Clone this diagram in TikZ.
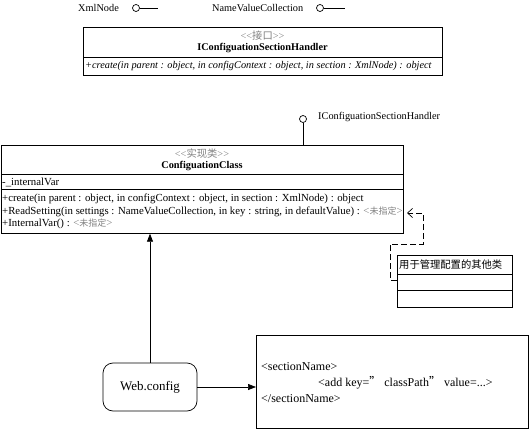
\documentclass[tikz,border=0pt]{standalone}
\usepackage{fontspec}
\setmainfont{Liberation Serif}
\newfontfamily\cjk{Noto Sans CJK SC}
\usetikzlibrary{arrows.meta}
\begin{document}
\begin{tikzpicture}[x=1pt,y=-1pt]
			\tikzstyle{trait}=[line width=0.7pt]
			\tikzstyle{classe}=[draw,line width=0.7pt,anchor=north west,inner sep=0pt]
			\tikzstyle{texte}=[inner sep=0pt,font=\fontsize{10.3}{12}\selectfont]
			\tikzstyle{ligne}=[texte,anchor=west]
			\tikzstyle{membre}=[ligne,font=\fontsize{10.8}{12}\selectfont]
			\tikzstyle{stereo}=[texte,text=gray]
			\tikzstyle{rond}=[draw,circle,minimum size=7pt,inner sep=0pt,line width=0.7pt]
			\tikzstyle{fleche}=[-{Triangle[length=8pt,width=6pt]},line width=0.7pt]
			\tikzstyle{dependance}=[-{Straight Barb[length=5pt,width=9pt]},line width=0.7pt,dash pattern=on 6pt off 3pt]
			
			\def\Stereo#1{<{}<{\cjk #1}>{}>}
			\def\NonSpec{{\color{gray}<{\cjk\fontsize{9}{10}\selectfont 未指定}>}}
			
			\useasboundingbox (0,0) rectangle (529,430);
			
			\node[ligne] (XmlNode) at (78,8) {XmlNode};
			\node[rond] (XmlRond) at (136,8) {};
			\coordinate (XmlFin) at (158,8);
			\draw[trait] (XmlRond) -- (XmlFin);
			\node[ligne] (NameValue) at (212,8) {NameValueCollection};
			\node[rond] (NameRond) at (320,8) {};
			\coordinate (NameFin) at (345,8);
			\draw[trait] (NameRond) -- (NameFin);
			
			\node[classe,minimum width=359pt,minimum height=48pt] (Interface) at (83,27) {};
			\draw[trait] ([yshift=-30pt]Interface.north west) -- ([yshift=-30pt]Interface.north east);
			\node[stereo] (InterfaceStereo) at (262.5,36) {\Stereo{接口}};
			\node[texte] (InterfaceNom) at (262.5,48) {\bfseries IConfiguationSectionHandler};
			\node[ligne] (InterfaceCreate) at (85,66) {\itshape +create(in parent : object, in configContext : object, in section : XmlNode) : object};
			
			\node[classe,minimum width=402pt,minimum height=88pt] (Classe) at (1,145) {};
			\draw[trait] ([yshift=-29pt]Classe.north west) -- ([yshift=-29pt]Classe.north east);
			\draw[trait] ([yshift=-44pt]Classe.north west) -- ([yshift=-44pt]Classe.north east);
			\node[stereo] (ClasseStereo) at (202,154) {\Stereo{实现类}};
			\node[texte] (ClasseNom) at (202,166) {\bfseries ConfiguationClass};
			\node[membre] (ClasseVar) at (2,182) {-\_internalVar};
			\node[membre] (ClasseCreate) at (2,198.5) {+create(in parent : object, in configContext : object, in section : XmlNode) : object};
			\node[membre] (Lecture) at (2,211.5) {+ReadSetting(in settings : NameValueCollection, in key : string, in defaultValue) : \NonSpec};
			\node[membre] (ClasseProp) at (2,224) {+InternalVar() : \NonSpec};
			
			\node[rond] (ClasseRond) at (303,119) {};
			\node[ligne] (ClasseInterface) at (318,117) {IConfiguationSectionHandler};
			\draw[trait] (ClasseRond) -- (ClasseRond |- Classe.north);
			
			\node[classe,minimum width=115pt,minimum height=52pt] (Autre) at (397,255) {};
			\draw[trait] ([yshift=-19pt]Autre.north west) -- ([yshift=-19pt]Autre.north east);
			\draw[trait] ([yshift=-35pt]Autre.north west) -- ([yshift=-35pt]Autre.north east);
			\node[ligne] (AutreNom) at (399,265) {\cjk 用于管理配置的其他类};
			
			\coordinate (LectureFin) at (407,213);
			\draw[dependance] ([yshift=-25pt]Autre.north west) -| (390,244) -| ([xshift=16pt]LectureFin) -- (LectureFin);
			
			\node[draw,trait,rounded corners=10pt,minimum width=94pt,minimum height=48pt,font=\fontsize{13}{15}\selectfont] (Web) at (150,387) {Web.config};
			\node[classe,minimum width=272pt,minimum height=93pt] (Xml) at (256,335) {};
			\node[ligne,font=\fontsize{12}{14}\selectfont] (XmlDebut) at (261,367) {<sectionName>};
			\node[ligne,font=\fontsize{12}{14}\selectfont] (XmlAdd) at (318,383) {<add key={\cjk ”} classPath{\cjk ”} value=...>};
			\node[ligne,font=\fontsize{12}{14}\selectfont] (XmlFin) at (261,399) {</sectionName>};
			
			\draw[fleche] (Web) -- (Web |- Classe.south);
			\draw[fleche] (Web) -- (Web -| Xml.west);
		\end{tikzpicture}
\end{document}
